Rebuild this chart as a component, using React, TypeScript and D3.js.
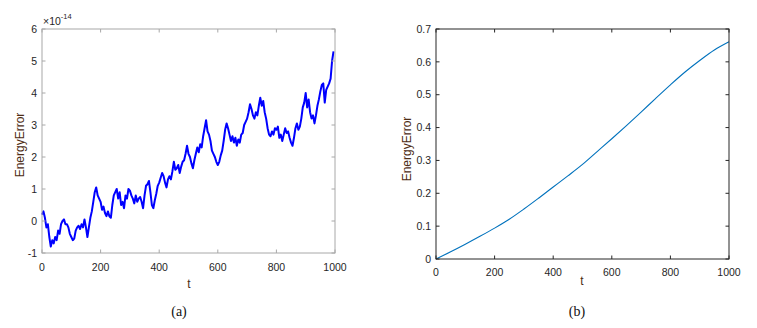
import React from "react";
import * as d3 from "d3";

// Panel (a): energy error (×1e-14) sampled every 5 time units
const errA: number[] = [
  0.2, 0.3, 0.1, -0.2, -0.1, -0.5, -0.8, -0.6, -0.7, -0.5,
  -0.6, -0.3, -0.4, -0.1, 0.0, 0.05, -0.1, -0.1, -0.2, -0.4,
  -0.5, -0.6, -0.55, -0.3, -0.2, -0.15, -0.25, -0.1, -0.2, 0.05,
  -0.2, -0.5, -0.2, 0.1, 0.3, 0.6, 0.9, 1.05, 0.8, 0.7,
  0.6, 0.35, 0.45, 0.25, 0.15, 0.3, 0.15, 0.1, 0.5, 0.8,
  0.9, 1.0, 0.7, 0.9, 0.5, 0.6, 0.4, 0.8, 0.7, 1.0,
  0.95, 0.8, 0.7, 0.55, 0.8, 0.6, 0.7, 0.75, 0.6, 0.4,
  0.8, 1.1, 1.15, 1.25, 0.9, 0.5, 0.4, 0.65, 0.85, 1.1,
  1.2, 1.35, 1.5, 1.4, 1.2, 1.05, 1.3, 1.4, 1.3, 1.55,
  1.85, 1.6, 1.65, 1.75, 1.5, 1.7, 1.85, 1.9, 2.1, 2.35,
  2.1, 2.0, 1.8, 1.65, 1.9, 2.1, 2.3, 2.15, 2.4, 2.3,
  2.65, 2.9, 3.15, 2.8, 2.7, 2.5, 2.2, 2.1, 2.0, 1.85,
  1.75, 1.85, 2.05, 2.2, 2.5, 2.85, 3.05, 2.9, 2.7, 2.5,
  2.65, 2.45, 2.6, 2.35, 2.55, 2.45, 2.7, 2.75, 3.0, 3.1,
  3.2, 3.4, 3.65, 3.5, 3.3, 3.2, 3.4, 3.3, 3.6, 3.85,
  3.6, 3.75, 3.4, 3.2, 2.9, 2.7, 2.65, 2.8, 2.7, 2.9,
  2.85, 2.95, 2.6, 2.7, 2.5, 2.7, 2.9, 2.75, 2.8, 2.6,
  2.45, 2.35, 2.6, 2.9, 3.05, 2.85, 2.95, 3.2, 3.55, 3.7,
  4.0, 3.55, 3.8, 3.4, 3.2, 3.3, 3.05, 3.3, 3.6, 3.8,
  4.05, 4.25, 4.3, 3.7, 4.1, 4.2, 4.3, 4.45, 5.0, 5.3,
];
const stepA = 5;

// Panel (b): energy error sampled every 50 time units
const errB: number[] = [
  0, 0.022, 0.045, 0.069, 0.094, 0.121, 0.152, 0.185, 0.219, 0.253,
  0.288, 0.327, 0.366, 0.406, 0.447, 0.489, 0.53, 0.569, 0.604, 0.636, 0.661,
];
const stepB = 50;

const xTicks = [0, 200, 400, 600, 800, 1000];
const yTicksA = [-1, 0, 1, 2, 3, 4, 5, 6];
const yTicksB = [0, 0.1, 0.2, 0.3, 0.4, 0.5, 0.6, 0.7];

const FONT = "'Liberation Sans', Arial, Helvetica, sans-serif";
const SERIF = "'Liberation Serif', 'Times New Roman', serif";
const TICKC = "#262626";
const LABELC = "#4d2c14";

type PanelProps = {
  x0: number; x1: number; y0: number; y1: number;
  data: number[]; step: number;
  yDomain: [number, number]; yTicks: number[];
  frameColor: string; lineColor: string; lineWidth: number;
  fmt: (v: number) => string;
  tickLabelBaseline: number; tLabelY: number; tLabelX: number;
  yLabelX: number; yLabelY: number;
  caption: string; captionX: number;
  curve: d3.CurveFactory;
  exponent?: boolean;
};

function Panel(p: PanelProps) {
  const x = d3.scaleLinear().domain([0, 1000]).range([p.x0, p.x1]);
  const y = d3.scaleLinear().domain(p.yDomain).range([p.y1, p.y0]);
  const line = d3
    .line<number>()
    .x((_, i) => x(i * p.step))
    .y((d) => y(d))
    .curve(p.curve);
  const tl = 3.5;
  return (
    <g>
      <path d={line(p.data) ?? ""} fill="none" stroke={p.lineColor} strokeWidth={p.lineWidth} strokeLinejoin="round" />
      <rect x={p.x0} y={p.y0} width={p.x1 - p.x0} height={p.y1 - p.y0} fill="none" stroke={p.frameColor} strokeWidth={1} />
      {xTicks.map((t) => (
        <g key={"x" + t}>
          <line x1={x(t)} x2={x(t)} y1={p.y1} y2={p.y1 - tl} stroke={p.frameColor} />
          <line x1={x(t)} x2={x(t)} y1={p.y0} y2={p.y0 + tl} stroke={p.frameColor} />
          <text x={x(t)} y={p.tickLabelBaseline} textAnchor="middle" fontFamily={FONT} fontSize={10.5} fill={TICKC}>
            {t}
          </text>
        </g>
      ))}
      {p.yTicks.map((v) => (
        <g key={"y" + v}>
          <line x1={p.x0} x2={p.x0 + tl} y1={y(v)} y2={y(v)} stroke={p.frameColor} />
          <line x1={p.x1} x2={p.x1 - tl} y1={y(v)} y2={y(v)} stroke={p.frameColor} />
          <text x={p.x0 - 5} y={y(v)} dy="0.35em" textAnchor="end" fontFamily={FONT} fontSize={10.5} fill={TICKC}>
            {p.fmt(v)}
          </text>
        </g>
      ))}
      {p.exponent && (
        <text x={p.x0 + 1} y={p.y0 - 4} fontFamily={FONT} fontSize={10.5} fill={TICKC}>
          ×10
          <tspan dy={-6} fontSize={7.5}>-14</tspan>
        </text>
      )}
      <text x={p.tLabelX} y={p.tLabelY} textAnchor="middle" fontFamily={FONT} fontSize={12} fill={LABELC}>
        t
      </text>
      <text
        transform={`translate(${p.yLabelX},${p.yLabelY}) rotate(-90)`}
        textAnchor="middle"
        fontFamily={FONT}
        fontSize={12}
        fill={LABELC}
      >
        EnergyError
      </text>
      <text x={p.captionX} y={316} textAnchor="middle" fontFamily={SERIF} fontSize={14} fill="#111">
        {p.caption}
      </text>
    </g>
  );
}

export default function App() {
  return (
    <svg width={757} height={328} style={{ position: "absolute", left: 0, top: 0, background: "#fff" }}>
      <rect width={757} height={328} fill="#fff" />
      <Panel
        x0={42} x1={335} y0={29} y1={253}
        data={errA} step={stepA}
        yDomain={[-1, 6]} yTicks={yTicksA}
        frameColor="#a8a8a8" lineColor="#0000ff" lineWidth={2}
        fmt={(v) => String(v)}
        tickLabelBaseline={271} tLabelX={189} tLabelY={288}
        yLabelX={24} yLabelY={145}
        caption="(a)" captionX={179}
        curve={d3.curveLinear}
        exponent
      />
      <Panel
        x0={436} x1={729} y0={29} y1={259}
        data={errB} step={stepB}
        yDomain={[0, 0.7]} yTicks={yTicksB}
        frameColor="#262626" lineColor="#0072BD" lineWidth={1.1}
        fmt={(v) => (v === 0 ? "0" : d3.format(".1f")(v))}
        tickLabelBaseline={276} tLabelX={582} tLabelY={285}
        yLabelX={411} yLabelY={149}
        caption="(b)" captionX={577}
        curve={d3.curveCatmullRom}
      />
    </svg>
  );
}
